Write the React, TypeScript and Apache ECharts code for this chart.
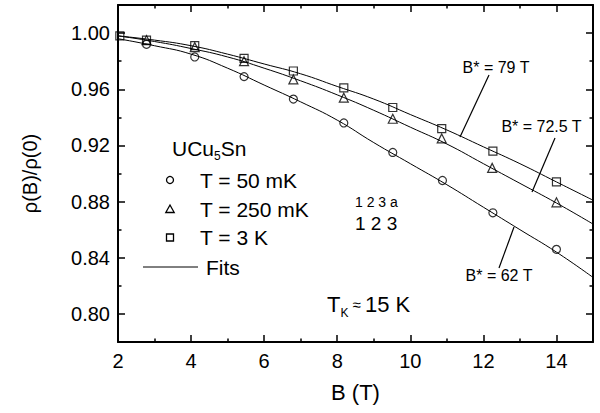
import React, { useEffect, useRef } from 'react';
import * as echarts from 'echarts';

// Measured points (B in tesla, rho(B)/rho(0))
const fieldsCircle = [2.78, 4.1, 5.45, 6.8, 8.18, 9.52, 10.88, 12.26, 14.0];
const rhoCircle = [0.992, 0.983, 0.969, 0.953, 0.936, 0.915, 0.895, 0.872, 0.846];
const fieldsTriangle = [2.78, 4.1, 5.45, 6.8, 8.18, 9.52, 10.86, 12.24, 14.0];
const rhoTriangle = [0.995, 0.99, 0.98, 0.967, 0.954, 0.939, 0.925, 0.904, 0.8795];
const fieldsSquare = [2.05, 2.78, 4.1, 5.45, 6.8, 8.18, 9.52, 10.86, 12.26, 14.0];
const rhoSquare = [0.998, 0.995, 0.991, 0.982, 0.973, 0.961, 0.947, 0.932, 0.916, 0.894];

// Fit curves
const fitFields = [2, 3, 4, 5, 6, 7, 8, 9, 10, 11, 12, 13, 14, 15];
const fitCircle = [0.996, 0.991, 0.985, 0.975, 0.963, 0.951, 0.938, 0.922, 0.907, 0.892, 0.876, 0.86, 0.844, 0.826];
const fitTriangle = [0.998, 0.994, 0.989, 0.983, 0.975, 0.966, 0.956, 0.945, 0.933, 0.921, 0.907, 0.893, 0.879, 0.864];
const fitSquare = [0.998, 0.995, 0.991, 0.985, 0.978, 0.971, 0.962, 0.953, 0.942, 0.931, 0.919, 0.907, 0.894, 0.881];

const xMajorTicks = [2, 4, 6, 8, 10, 12, 14];
const xMinorTicks = [3, 5, 7, 9, 11, 13];
const yMajorTicks = [0.8, 0.84, 0.88, 0.92, 0.96, 1.0];
const yMinorTicks = [0.82, 0.86, 0.9, 0.94, 0.98];

const FONT = '"Liberation Sans", Arial, Helvetica, sans-serif';

const zip = (xs: number[], ys: number[]) => xs.map((x, i) => [x, ys[i]]);

export default function App() {
  const ref = useRef<HTMLDivElement>(null);
  useEffect(() => {
    if (!ref.current) return;
    const chart = echarts.init(ref.current, undefined, { renderer: 'svg' });
    const lineAxis = { show: true, onZero: false, lineStyle: { color: '#000', width: 2 } };
    const tickStyle = { color: '#000', width: 1.5 };
    const xBase = { type: 'value', min: 2, max: 15, splitLine: { show: false } };
    const yBase = { type: 'value', min: 0.78, max: 1.02, splitLine: { show: false } };
    const majorLen = 7;
    const minorLen = 3.5;
    const txt = (x: number, y: number, text: string, size: number, extra: any = {}) => ({
      type: 'text',
      x,
      y,
      style: { text, fontSize: size, fontFamily: FONT, fill: '#000', verticalAlign: 'middle', ...extra },
    });
    const seg = (x1: number, y1: number, x2: number, y2: number) => ({
      type: 'line',
      shape: { x1, y1, x2, y2 },
      style: { stroke: '#000', lineWidth: 1.2 },
    });
    const marker = { color: 'rgba(0,0,0,0)', borderColor: '#000', borderWidth: 1.2 };
    const fitLine = (name: string, ys: number[]) => ({
      name,
      type: 'line',
      data: zip(fitFields, ys),
      smooth: true,
      showSymbol: false,
      lineStyle: { color: '#000', width: 1 },
      z: 2,
    });
    chart.setOption({
      animation: false,
      backgroundColor: '#fff',
      grid: { left: 118, right: 7, top: 5, bottom: 71, containLabel: false },
      xAxis: [
        {
          ...xBase,
          position: 'bottom',
          axisLine: lineAxis,
          axisTick: { show: true, inside: true, length: majorLen, customValues: xMajorTicks, lineStyle: tickStyle },
          axisLabel: { show: true, customValues: xMajorTicks, color: '#000', fontSize: 20, fontFamily: FONT, margin: 9 },
          name: 'B (T)',
          nameLocation: 'middle',
          nameGap: 39,
          nameTextStyle: { color: '#000', fontSize: 22, fontFamily: FONT },
        },
        {
          ...xBase,
          position: 'bottom',
          axisLine: { show: false },
          axisTick: { show: true, inside: true, length: minorLen, customValues: xMinorTicks, lineStyle: tickStyle },
          axisLabel: { show: false },
        },
        {
          ...xBase,
          position: 'top',
          axisLine: lineAxis,
          axisTick: { show: true, inside: true, length: majorLen, customValues: xMajorTicks, lineStyle: tickStyle },
          axisLabel: { show: false },
        },
        {
          ...xBase,
          position: 'top',
          axisLine: { show: false },
          axisTick: { show: true, inside: true, length: minorLen, customValues: xMinorTicks, lineStyle: tickStyle },
          axisLabel: { show: false },
        },
      ],
      yAxis: [
        {
          ...yBase,
          position: 'left',
          axisLine: lineAxis,
          axisTick: { show: true, inside: true, length: majorLen, customValues: yMajorTicks, lineStyle: tickStyle },
          axisLabel: {
            show: true,
            customValues: yMajorTicks,
            color: '#000',
            fontSize: 20,
            fontFamily: FONT,
            margin: 8,
            formatter: (v: number) => v.toFixed(2),
          },
          name: 'ρ(B)/ρ(0)',
          nameLocation: 'middle',
          nameGap: 78,
          nameRotate: 90,
          nameTextStyle: { color: '#000', fontSize: 20, fontFamily: FONT },
        },
        {
          ...yBase,
          position: 'left',
          axisLine: { show: false },
          axisTick: { show: true, inside: true, length: minorLen, customValues: yMinorTicks, lineStyle: tickStyle },
          axisLabel: { show: false },
        },
        {
          ...yBase,
          position: 'right',
          axisLine: lineAxis,
          axisTick: { show: true, inside: true, length: majorLen, customValues: yMajorTicks, lineStyle: tickStyle },
          axisLabel: { show: false },
        },
        {
          ...yBase,
          position: 'right',
          axisLine: { show: false },
          axisTick: { show: true, inside: true, length: minorLen, customValues: yMinorTicks, lineStyle: tickStyle },
          axisLabel: { show: false },
        },
      ],
      series: [
        fitLine('Fit 50 mK', fitCircle),
        fitLine('Fit 250 mK', fitTriangle),
        fitLine('Fit 3 K', fitSquare),
        {
          name: 'T = 50 mK',
          type: 'scatter',
          data: zip(fieldsCircle, rhoCircle),
          symbol: 'circle',
          symbolSize: 8,
          itemStyle: marker,
          z: 3,
        },
        {
          name: 'T = 250 mK',
          type: 'scatter',
          data: zip(fieldsTriangle, rhoTriangle),
          symbol: 'triangle',
          symbolSize: 9,
          itemStyle: marker,
          z: 3,
        },
        {
          name: 'T = 3 K',
          type: 'scatter',
          data: zip(fieldsSquare, rhoSquare),
          symbol: 'rect',
          symbolSize: 8,
          itemStyle: marker,
          z: 3,
        },
      ],
      graphic: [
        {
          type: 'text',
          x: 172,
          y: 148,
          style: {
            text: '{n|UCu}{s|5}{n|Sn}',
            fontFamily: FONT,
            fill: '#000',
            verticalAlign: 'middle',
            rich: {
              n: { fontSize: 21, lineHeight: 28, fontFamily: FONT, fill: '#000' },
              s: { fontSize: 12, lineHeight: 12, verticalAlign: 'bottom', fontFamily: FONT, fill: '#000' },
            },
          },
        },
        { type: 'circle', shape: { cx: 170, cy: 180, r: 3.5 }, style: { fill: 'none', stroke: '#000', lineWidth: 1.3 } },
        {
          type: 'polygon',
          shape: { points: [[170, 205], [165.8, 212.5], [174.2, 212.5]] },
          style: { fill: 'none', stroke: '#000', lineWidth: 1.3 },
        },
        { type: 'rect', shape: { x: 166.5, y: 234, width: 7, height: 7 }, style: { fill: 'none', stroke: '#000', lineWidth: 1.3 } },
        { type: 'line', shape: { x1: 143, y1: 267, x2: 198, y2: 267 }, style: { stroke: '#000', lineWidth: 1 } },
        txt(200, 180, 'T = 50 mK', 21),
        txt(200, 209, 'T = 250 mK', 21),
        txt(200, 237, 'T = 3 K', 21),
        txt(206, 267, 'Fits', 21),
        txt(355, 202, '1 2 3 a', 14),
        txt(355, 223, '1 2 3', 19),
        {
          type: 'text',
          x: 327,
          y: 304,
          style: {
            text: '{t|T}{k|K}{m| ≈ }{a|15 K}',
            fontFamily: FONT,
            fill: '#000',
            verticalAlign: 'middle',
            rich: {
              t: { fontSize: 22, lineHeight: 30, fontFamily: FONT, fill: '#000' },
              k: { fontSize: 12, lineHeight: 12, verticalAlign: 'bottom', fontFamily: FONT, fill: '#000' },
              m: { fontSize: 15, lineHeight: 30, fontFamily: FONT, fill: '#000' },
              a: { fontSize: 22, lineHeight: 30, fontFamily: FONT, fill: '#000' },
            },
          },
        },
        txt(496, 67, 'B* = 79 T', 16, { align: 'center' }),
        txt(541.5, 126, 'B* = 72.5 T', 16, { align: 'center' }),
        txt(499, 275, 'B* = 62 T', 16, { align: 'center' }),
        seg(489, 75, 460, 137),
        seg(555, 138, 532, 192),
        seg(514, 227, 499, 268),
      ],
    });
    return () => chart.dispose();
  }, []);
  return (
    <div
      ref={ref}
      style={{ position: 'fixed', left: 0, top: 0, width: 600, height: 413, background: '#fff' }}
    />
  );
}
